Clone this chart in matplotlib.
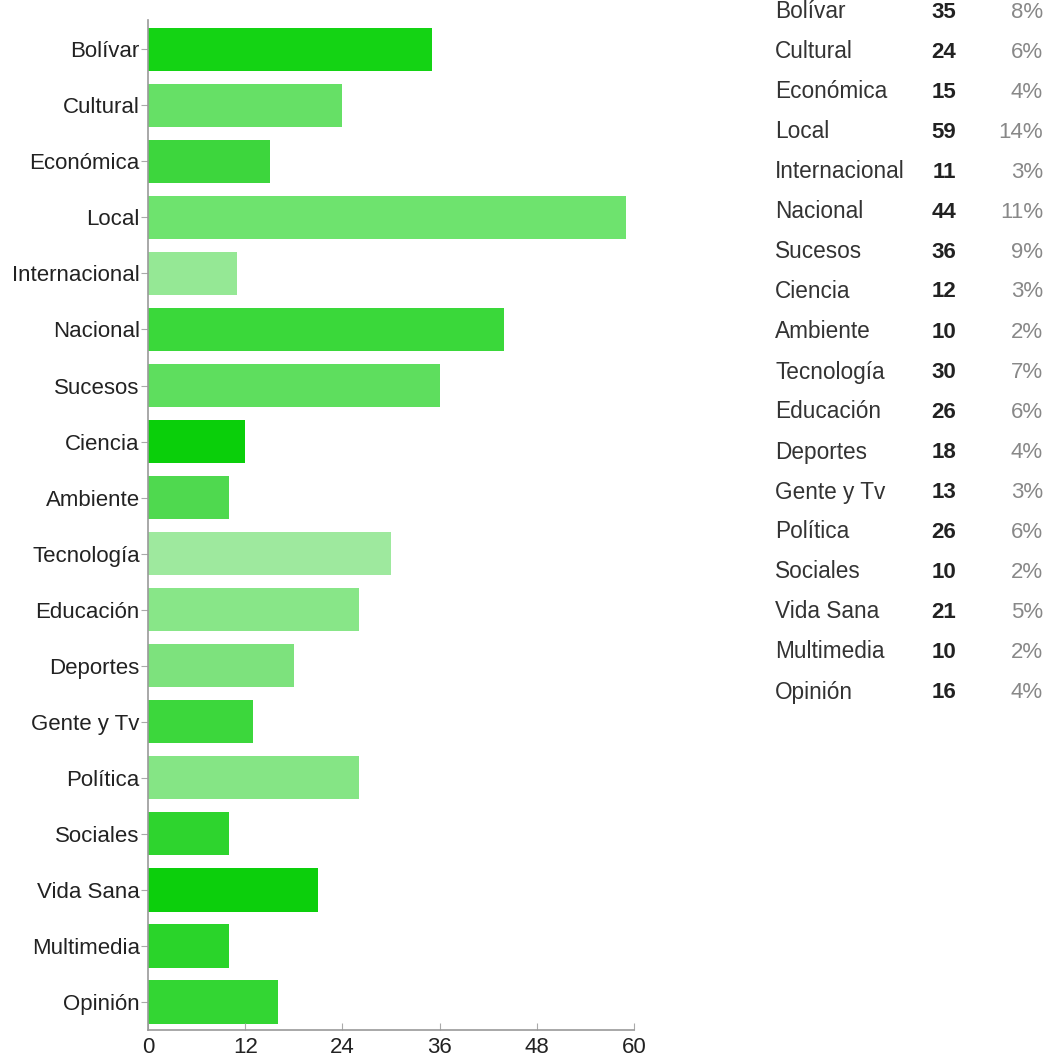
import matplotlib.pyplot as plt

# Sections and counts
categories = ['Bolívar', 'Cultural', 'Económica', 'Local', 'Internacional',
              'Nacional', 'Sucesos', 'Ciencia', 'Ambiente', 'Tecnología',
              'Educación', 'Deportes', 'Gente y Tv', 'Política', 'Sociales',
              'Vida Sana', 'Multimedia', 'Opinión']
counts = [35, 24, 15, 59, 11, 44, 36, 12, 10, 30, 26, 18, 13, 26, 10, 21, 10, 16]
percents = ['8%', '6%', '4%', '14%', '3%', '11%', '9%', '3%', '2%', '7%',
            '6%', '4%', '3%', '6%', '2%', '5%', '2%', '4%']
bar_colors = ['#14d314', '#66e066', '#3dd63d', '#6ee36e', '#95e895',
              '#3ad83a', '#5ede5e', '#0acf0a', '#4fd94f', '#9ee99e',
              '#88e688', '#7de27d', '#3cd73c', '#85e585', '#2ed42e',
              '#0ccf0c', '#2ad42a', '#33d633']
xticks = [0, 12, 24, 36, 48, 60]

plt.rcParams['font.family'] = ['Liberation Sans', 'DejaVu Sans']

fig = plt.figure(figsize=(10.55, 10.57), dpi=100)
ax = fig.add_axes([0.1403, 0.0255, 0.4607, 0.9555])

ypos = list(range(len(categories)))
ax.barh(ypos, counts, height=0.77, color=bar_colors, edgecolor='none')

ax.set_xlim(0, 60)
ax.set_ylim(17.5, -0.52)
ax.set_yticks(ypos)
ax.set_yticklabels(categories, fontsize=16, color='#222222')
ax.set_xticks(xticks)
ax.set_xticklabels([str(t) for t in xticks], fontsize=16, color='#222222')

for side in ['top', 'right']:
    ax.spines[side].set_visible(False)
for side in ['left', 'bottom']:
    ax.spines[side].set_color('#999999')
    ax.spines[side].set_linewidth(1.2)
ax.tick_params(axis='y', length=5, color='#aaaaaa', pad=1)
ax.tick_params(axis='x', direction='in', length=5, color='#aaaaaa', pad=5)

# Summary table on the right
W, H = 1055, 1057
row0, step = 12, 40
for i, (name, n, pct) in enumerate(zip(categories, counts, percents)):
    y = 1 - (row0 + i * step) / H
    fig.text(775 / W, y, name, fontsize=16.3, color='#333333', va='center', ha='left')
    fig.text(956 / W, y, str(n), fontsize=16, color='#222222', fontweight='bold',
             va='center', ha='right')
    fig.text(1043 / W, y, pct, fontsize=16, color='#888888', va='center', ha='right')

fig.savefig('out.png', dpi=100, facecolor='white')
